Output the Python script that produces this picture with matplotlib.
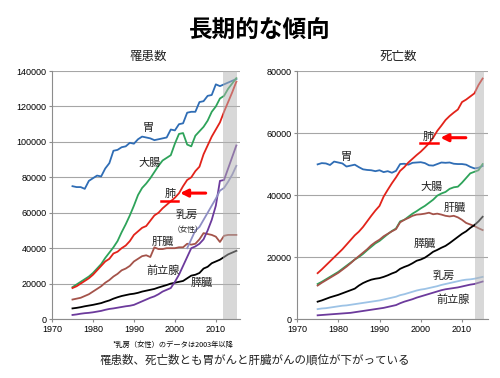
import numpy as np
import matplotlib
matplotlib.use("Agg")
import matplotlib.pyplot as plt

plt.rcParams['font.family'] = ['Noto Sans CJK JP', 'DejaVu Sans']

years = np.arange(1975, 2016)

# 罹患数 (incidence)
inc_stomach = [75000, 74500, 74500, 73500, 78000, 79500, 81000, 80500, 85000, 88000,
               95000, 95500, 97000, 97500, 99500, 99000, 101500, 103000, 102500, 102000,
               101000, 101500, 102000, 102500, 107000, 106500, 110000, 110500, 116500, 117000,
               117000, 122500, 123000, 126000, 126500, 132500, 131500, 132500, 133500, 134500, 135500]
inc_colon = [18000, 19500, 21000, 22500, 24000, 26000, 28500, 31000, 34500, 37500,
             40500, 44000, 49000, 53500, 58500, 64000, 70000, 74000, 76500, 79500,
             83000, 86500, 89500, 91000, 92500, 99000, 104500, 105000, 98500, 97500,
             103500, 106000, 108500, 112000, 117000, 120000, 124500, 126000, 130000, 133000, 136000]
inc_lung = [17500, 18500, 20000, 21500, 23000, 25000, 27500, 30000, 32500, 34000,
            37000, 38000, 40000, 41500, 44000, 47500, 49500, 51500, 52500, 55500,
            58500, 60000, 62500, 64500, 66500, 68500, 71000, 75000, 78500, 80000,
            83500, 86000, 93000, 98000, 103000, 107000, 111000, 117000, 122500, 128000, 134000]
inc_liver = [11000, 11500, 12000, 13000, 14000, 15500, 17000, 18500, 20500, 22000,
             24000, 25500, 27500, 28500, 30000, 32500, 34000, 35500, 36000, 35000,
             40500, 39500, 39500, 40000, 40000, 40000, 40500, 40500, 42500, 42000,
             42500, 45000, 48500, 48000, 47500, 46500, 43500, 47000, 47500, 47500, 47500]
inc_pancreas = [6000, 6300, 6700, 7200, 7600, 8000, 8500, 9000, 9800, 10500,
                11500, 12300, 13000, 13500, 14000, 14300, 14800, 15500, 16000, 16500,
                17000, 17800, 18500, 19200, 20000, 20500, 21000, 21500, 23000, 24500,
                25000, 26000, 28500, 29500, 31500, 32500, 33500, 35000, 36500, 37500, 38500]
inc_prostate = [2300, 2600, 3000, 3300, 3500, 3800, 4200, 4600, 5200, 5700,
                6000, 6400, 6800, 7200, 7500, 8000, 9000, 10000, 11000, 12000,
                12800, 14000, 15500, 16500, 17500, 21000, 25000, 30000, 35000, 40000,
                41000, 42500, 45000, 50000, 56000, 64000, 78000, 78500, 85000, 91500, 98000]
breast_years = np.arange(2003, 2016)
inc_breast = [40000, 45000, 50000, 52000, 56000, 60000, 64000, 68000, 72500, 74000,
              77500, 81500, 86500]

# 死亡数 (mortality)
mor_stomach = [49900, 50300, 50200, 49700, 50800, 50500, 50200, 49200, 49500, 49800,
               49000, 48300, 48100, 48000, 47700, 48000, 47400, 47700, 47200, 47800,
               50000, 50100, 49800, 50400, 50500, 50600, 50300, 49600, 49500, 50000,
               50500, 50400, 50500, 50100, 50000, 50000, 49800, 49100, 48600, 48800, 49400]
mor_lung = [14800, 16000, 17300, 18600, 19900, 21200, 22500, 24000, 25500, 27000,
            28200, 29700, 31500, 33300, 35000, 36500, 39500, 41700, 43800, 45700,
            47800, 49000, 50500, 51700, 52900, 54000, 55300, 56700, 58500, 60700,
            62400, 64200, 65500, 66600, 67600, 70000, 70800, 71800, 72800, 75500, 77600]
mor_colon = [11300, 12000, 12800, 13600, 14400, 15200, 16200, 17200, 18200, 19200,
             20000, 21000, 22200, 23300, 24400, 25200, 26300, 27400, 28400, 29200,
             31500, 32000, 33000, 34000, 34800, 35700, 36500, 37500, 38500, 39800,
             40500, 41000, 42000, 42500, 42700, 44000, 45500, 47000, 47500, 48000, 50000]
mor_liver = [10800, 11700, 12500, 13300, 14100, 14900, 15900, 16900, 18000, 19200,
             20300, 21400, 22500, 23800, 24800, 25600, 26700, 27500, 28300, 29000,
             31200, 32000, 32600, 33300, 33700, 33800, 34000, 34300, 33800, 34000,
             33700, 33300, 33100, 33300, 32800, 32000, 31000, 30500, 30000, 29300, 28700]
mor_pancreas = [5600, 6000, 6500, 7000, 7400, 7800, 8300, 8800, 9300, 9800,
                10800, 11600, 12200, 12700, 13000, 13200, 13600, 14100, 14700, 15200,
                16200, 16800, 17300, 18000, 18800, 19200, 19800, 20700, 21700, 22300,
                23000, 23600, 24500, 25500, 26500, 27500, 28300, 29400, 30300, 31500, 33000]
mor_breast = [3200, 3400, 3500, 3700, 3900, 4100, 4300, 4400, 4600, 4800,
              5000, 5200, 5400, 5600, 5800, 6000, 6300, 6600, 6900, 7200,
              7700, 8000, 8400, 8800, 9200, 9500, 9700, 10000, 10300, 10600,
              11000, 11300, 11600, 11900, 12200, 12500, 12700, 12800, 13000, 13300, 13600]
mor_prostate = [1200, 1300, 1400, 1500, 1600, 1700, 1800, 1900, 2000, 2200,
                2400, 2600, 2800, 3000, 3200, 3400, 3600, 3900, 4200, 4500,
                5100, 5600, 6000, 6400, 6900, 7300, 7700, 8100, 8500, 8900,
                9300, 9600, 9800, 10000, 10200, 10500, 10800, 11100, 11300, 11700, 12100]

BLUE = '#2f6db5'
GREEN = '#2ea35a'
RED = '#e2231a'
BROWN = '#a4534a'
PURPLE = '#6c3a9c'

fig = plt.figure(figsize=(5, 3.78), dpi=100)
ax1 = fig.add_axes([0.104, 0.156, 0.376, 0.656])
ax2 = fig.add_axes([0.594, 0.156, 0.382, 0.656])


def style(ax, ymax, step, xmax):
    ax.set_xlim(1970, xmax)
    ax.set_ylim(0, ymax)
    ax.set_xticks(np.arange(1970, 2011, 10))
    ax.set_yticks(np.arange(0, ymax + 1, step))
    ax.grid(axis='y', color='#a6a6a6', lw=0.8)
    ax.set_axisbelow(True)
    for s in ['top', 'right']:
        ax.spines[s].set_visible(False)
    for s in ['left', 'bottom']:
        ax.spines[s].set_color('#8c8c8c')
    ax.tick_params(labelsize=6.5, length=2, color='#8c8c8c', pad=2)
    for lab in ax.get_xticklabels() + ax.get_yticklabels():
        lab.set_fontfamily('Liberation Sans')


lw = 1.3
ax1.plot(years, inc_stomach, color=BLUE, lw=lw)
ax1.plot(years, inc_colon, color=GREEN, lw=lw)
ax1.plot(years, inc_lung, color=RED, lw=lw)
ax1.plot(years, inc_liver, color=BROWN, lw=lw)
ax1.plot(years, inc_pancreas, color='black', lw=lw)
ax1.plot(years, inc_prostate, color=PURPLE, lw=lw)
ax1.plot(breast_years, inc_breast, color='#8e8ec4', lw=lw)
ax1.axvspan(2011.8, 2015.1, color='#b3b3b3', alpha=0.5, lw=0, zorder=5)
style(ax1, 140000, 20000, 2015.9)

ax2.plot(years, mor_stomach, color=BLUE, lw=lw)
ax2.plot(years, mor_lung, color=RED, lw=lw)
ax2.plot(years, mor_colon, color=GREEN, lw=lw)
ax2.plot(years, mor_liver, color=BROWN, lw=lw)
ax2.plot(years, mor_pancreas, color='black', lw=lw)
ax2.plot(years, mor_breast, color='#9dc3e6', lw=lw)
ax2.plot(years, mor_prostate, color=PURPLE, lw=lw)
ax2.axvspan(2013.2, 2015.4, color='#b3b3b3', alpha=0.5, lw=0, zorder=5)
style(ax2, 80000, 20000, 2016.3)

# series labels
lab_kw = dict(fontsize=8, ha='center', va='center', color='#222222')
inc_labels = [('胃', 1993.4, 107800), ('大腸', 1993.9, 88200), ('肺', 1998.8, 70600),
              ('乳房', 2002.9, 58700), ('肝臓', 1997.1, 43600), ('前立腺', 1997.1, 27300),
              ('膵臓', 2006.5, 20200)]
for t, x, y in inc_labels:
    ax1.text(x, y, t, **lab_kw)
ax1.text(2003.2, 50200, '（女性）', fontsize=5.5, ha='center', va='center', color='#222222')

mor_labels = [('胃', 1982.0, 52400), ('肺', 2001.8, 58600), ('大腸', 2002.7, 42700),
              ('肝臓', 2008.3, 35700), ('膵臓', 2001.0, 24200), ('乳房', 2005.5, 13900),
              ('前立腺', 2007.9, 6100)]
for t, x, y in mor_labels:
    ax2.text(x, y, t, **lab_kw)

# lung emphasis: underline + arrow
ax1.plot([1996.6, 2000.7], [66600, 66600], color='red', lw=1.8, zorder=6)
ax1.annotate('', xy=(2000.6, 71100), xytext=(2008.2, 71100),
             arrowprops=dict(arrowstyle='-|>', color='red', lw=2.2, mutation_scale=11))
ax2.plot([1999.8, 2004.2], [56700, 56700], color='red', lw=1.8, zorder=6)
ax2.annotate('', xy=(2004.1, 58500), xytext=(2011.6, 58500),
             arrowprops=dict(arrowstyle='-|>', color='red', lw=2.2, mutation_scale=11))

fig.text(0.52, 0.92, '長期的な傾向', fontsize=17, fontweight='bold', ha='center', va='center')
fig.text(0.296, 0.851, '罹患数', fontsize=9, ha='center', va='center', color='#222222')
fig.text(0.796, 0.851, '死亡数', fontsize=9, ha='center', va='center', color='#222222')
fig.text(0.346, 0.087, '*乳房（女性）のデータは2003年以降', fontsize=5.2, ha='center', va='center')
fig.text(0.51, 0.048, '罹患数、死亡数とも胃がんと肝臓がんの順位が下がっている', fontsize=8.3,
         ha='center', va='center', color='#222222')

fig.savefig('out.png', dpi=100)
